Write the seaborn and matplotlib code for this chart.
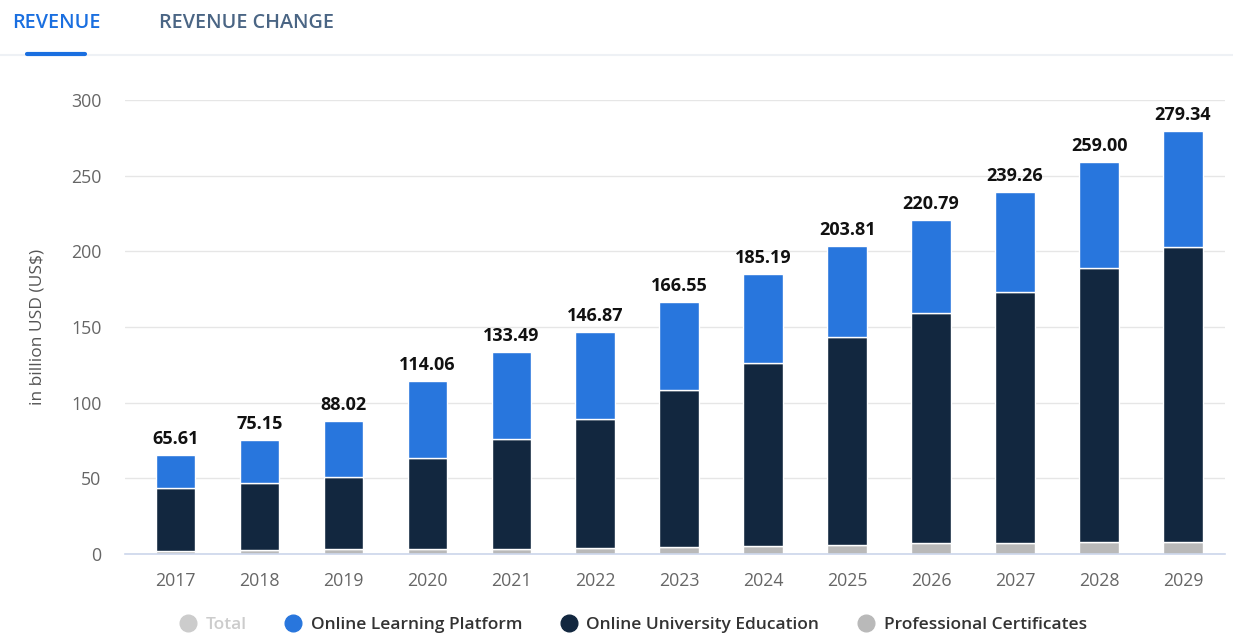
import matplotlib
matplotlib.use("Agg")
import matplotlib.pyplot as plt
from matplotlib.lines import Line2D
import seaborn as sns
import pandas as pd

years = ["2017", "2018", "2019", "2020", "2021", "2022", "2023",
         "2024", "2025", "2026", "2027", "2028", "2029"]
totals = [65.61, 75.15, 88.02, 114.06, 133.49, 146.87, 166.55,
          185.19, 203.81, 220.79, 239.26, 259.00, 279.34]
professional_certificates = [2.3, 2.5, 3.0, 3.1, 3.3, 4.0, 4.7, 5.0, 6.0, 7.2, 7.4, 7.7, 7.9]
online_university_education = [41.5, 44.2, 47.7, 60.1, 72.5, 85.2, 103.7,
                               121.0, 137.2, 151.9, 166.0, 181.1, 195.2]
online_learning_platform = [round(t - p - u, 2) for t, p, u in
                            zip(totals, professional_certificates, online_university_education)]

df = pd.DataFrame({
    "year": years,
    "prof": professional_certificates,
    "univ": online_university_education,
    "olp": online_learning_platform,
})
df["univ_bottom"] = df["prof"]
df["olp_bottom"] = df["prof"] + df["univ"]

C_BLUE = "#2876dd"
C_DARK = "#12273f"
C_GRAY = "#b9b9b9"

sns.set_theme(style="white")
plt.rcParams["font.family"] = ["Open Sans", "DejaVu Sans"]

W, H = 1233, 634
fig = plt.figure(figsize=(W / 100, H / 100), dpi=100)
ax = fig.add_axes([125 / W, (H - 554) / H, (1225 - 125) / W, (554 - 100) / H])

bw = 0.47
sns.barplot(data=df, x="year", y="prof", color=C_GRAY, width=bw, ax=ax,
            edgecolor="white", linewidth=1, saturation=1)
sns.barplot(data=df, x="year", y="univ", bottom=df["univ_bottom"], color=C_DARK,
            width=bw, ax=ax, edgecolor="white", linewidth=1, saturation=1)
sns.barplot(data=df, x="year", y="olp", bottom=df["olp_bottom"], color=C_BLUE,
            width=bw, ax=ax, edgecolor="white", linewidth=1, saturation=1)

ax.bar_label(ax.containers[-1], labels=[f"{t:.2f}" for t in totals], padding=5,
             fontsize=13, fontweight="bold", color="#111111")

ax.set_ylim(0, 300)
ax.set_xlim(-0.6, len(years) - 0.5)
ax.set_yticks([0, 50, 100, 150, 200, 250, 300])
ax.yaxis.grid(True, color="#e6e6e6", linewidth=1)
ax.set_axisbelow(True)
for s in ["top", "right", "left"]:
    ax.spines[s].set_visible(False)
ax.spines["bottom"].set_color("#ccd6eb")
ax.spines["bottom"].set_linewidth(1.2)
ax.tick_params(axis="x", colors="#ccd6eb", length=8, width=1, pad=5, direction="out")
ax.tick_params(axis="y", length=0, pad=17)
for lab in ax.get_xticklabels():
    lab.set_color("#666666")
    lab.set_fontsize(12.8)
for lab in ax.get_yticklabels():
    lab.set_color("#666666")
    lab.set_fontsize(12.8)
ax.set_xlabel("")
ax.set_ylabel("in billion USD (US$)", fontsize=12.5, color="#555555")
ax.yaxis.set_label_coords(-(125 - 45) / (1225 - 125), 0.5)

# Tabs
fig.text(12 / W, 1 - 23 / H, "REVENUE", color="#1a6fe0", fontsize=14.2,
         fontweight="semibold", va="center", ha="left")
fig.text(159 / W, 1 - 23 / H, "REVENUE CHANGE", color="#4a6584", fontsize=14.2,
         fontweight="semibold", va="center", ha="left")
fig.add_artist(Line2D([0, 1], [1 - 55 / H, 1 - 55 / H], transform=fig.transFigure,
                      color="#eef1f5", linewidth=1.5))
fig.add_artist(Line2D([27 / W, 85 / W], [1 - 54 / H, 1 - 54 / H], transform=fig.transFigure,
                      color="#1a6fe0", linewidth=3, solid_capstyle="round"))

# Legend
handles = [
    Line2D([], [], marker="o", linestyle="", markersize=12, color="#cccccc"),
    Line2D([], [], marker="o", linestyle="", markersize=12, color=C_BLUE),
    Line2D([], [], marker="o", linestyle="", markersize=12, color=C_DARK),
    Line2D([], [], marker="o", linestyle="", markersize=12, color=C_GRAY),
]
labels = ["Total", "Online Learning Platform", "Online University Education",
          "Professional Certificates"]
leg = fig.legend(handles, labels, loc="center", bbox_to_anchor=(633 / W, 1 - 625 / H),
                 ncol=4, frameon=False, fontsize=12.5, handletextpad=0.5,
                 columnspacing=2.2, handlelength=1.0)
for i, t in enumerate(leg.get_texts()):
    t.set_fontweight("semibold")
    t.set_color("#cccccc" if i == 0 else "#333333")

fig.savefig("out.png", dpi=100, facecolor="white")
